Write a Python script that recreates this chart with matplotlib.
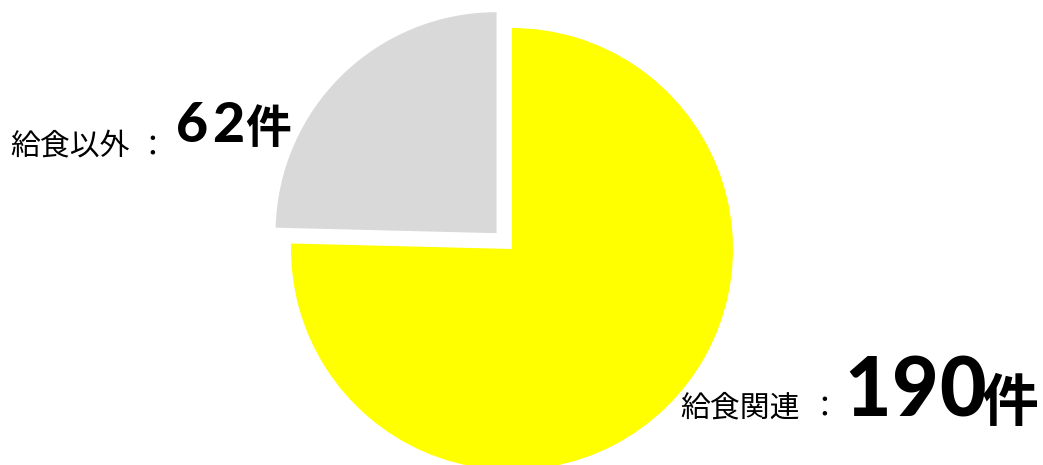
import matplotlib
matplotlib.use("Agg")
import matplotlib.pyplot as plt

categories = ["給食関連", "給食以外"]
counts = [190, 62]
colors = ["#FFFF00", "#D9D9D9"]
explode = [0, 0.1]
unit = "件"

W, H = 1043, 465
fig = plt.figure(figsize=(W / 100, H / 100), dpi=100)
ax = fig.add_axes([0, 0, 1, 1])

cx, cy, R = 512, 249, 221  # pixel centre / radius
ax.pie(counts, colors=colors, explode=explode, startangle=90, counterclock=False,
       radius=1, center=(0, 0), wedgeprops=dict(linewidth=0))
ax.set_xlim(-cx / R, (W - cx) / R)
ax.set_ylim(-(H - cy) / R, cy / R)
ax.set_aspect("equal", adjustable="box")
ax.axis("off")

renderer = fig.canvas.get_renderer()


def put(x, y, s, **kw):
    t = fig.text(x / W, 1 - y / H, s, va="baseline", ha="left", **kw)
    return t.get_window_extent(renderer).x1  # right edge in pixels


jp = ["Noto Sans CJK JP", "DejaVu Sans"]
num = ["Lato", "Noto Sans CJK JP"]

# left label: 給食以外：62件
yb = 142
put(10, 155, categories[1], family=jp, fontsize=21.5)
put(10 + 4 * 30.3 + 6, 155, "：", family=jp, fontsize=21.5)
xn = 176
for ch in str(counts[1]):
    xn = put(xn, yb, ch, family=num, fontsize=40, fontweight="black") + 4
put(xn - 3, yb + 1, unit, family=jp, fontsize=33, fontweight="bold")

# right label: 給食関連：190件
yb = 416
put(680, 416, categories[0], family=jp, fontsize=21.5)
put(680 + 4 * 30.8 + 6, 416, "：", family=jp, fontsize=21.5)
xn = 844
for ch in str(counts[0]):
    xn = put(xn, yb, ch, family=num, fontsize=58, fontweight="black") + 1
put(xn - 5, yb + 5, unit, family=jp, fontsize=41, fontweight="bold")

fig.savefig("out.png", dpi=100)
